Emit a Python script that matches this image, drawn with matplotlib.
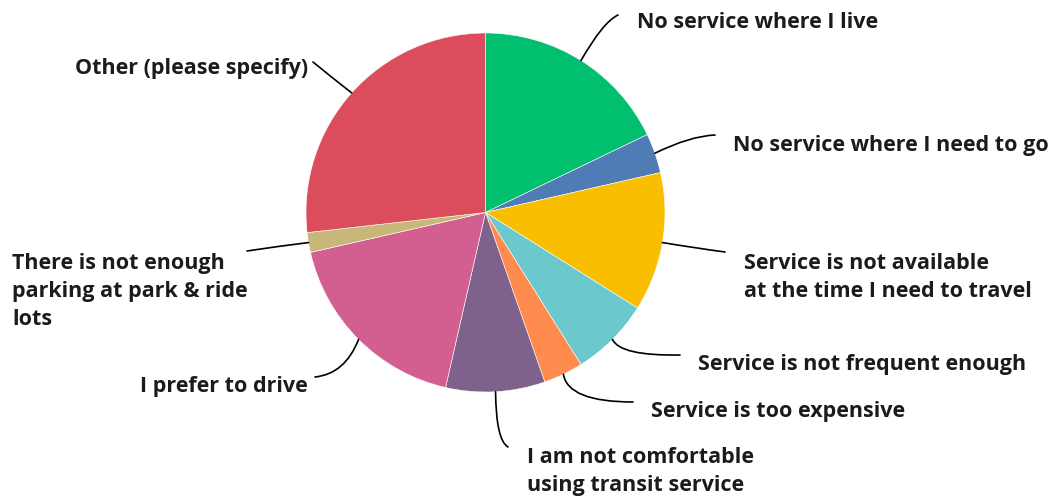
import numpy as np
import matplotlib
matplotlib.use("Agg")
import matplotlib.pyplot as plt
from matplotlib.path import Path
from matplotlib.patches import PathPatch

# Survey responses: reasons for not using transit
categories = [
    "No service where I live",
    "No service where I need to go",
    "Service is not available\nat the time I need to travel",
    "Service is not frequent enough",
    "Service is too expensive",
    "I am not comfortable\nusing transit service",
    "I prefer to drive",
    "There is not enough\nparking at park & ride\nlots",
    "Other (please specify)",
]
counts = [10, 2, 7, 4, 2, 5, 10, 1, 15]
colors = ["#00BF6F", "#507CB6", "#F9BE00", "#6BC8CD", "#FF8B4F",
          "#7F628B", "#D25F90", "#C7B879", "#DB4D5C"]

W, H = 1052, 498
fig = plt.figure(figsize=(W / 100, H / 100), dpi=100)
ax = fig.add_axes([0, 0, 1, 1])

cx, cy, r = 485.5, H - 212.5, 179.5
wedges, _ = ax.pie(counts, colors=colors, startangle=90, counterclock=False,
                   center=(cx, cy), radius=r, frame=True,
                   wedgeprops=dict(edgecolor="white", linewidth=0.4))
ax.set_xlim(0, W)
ax.set_ylim(0, H)
ax.set_aspect("equal")
ax.axis("off")

# label layout: (text anchor x, y in image px, alignment, connector end, control point)
layout = [
    (637, 22.5, "left", (618, 15), (603, 22)),
    (733, 145.5, "left", (715, 135), (690, 136)),
    (744, 277.5, "left", (725, 252), (695, 248)),
    (698, 364.5, "left", (680, 355), (620, 356)),
    (651, 411.5, "left", (633, 402), (568, 402)),
    (527, 471.5, "left", (508, 447), (496, 440)),
    (308, 386.5, "right", (315, 377), (345, 374)),
    (12, 291.5, "left", (247, 251), (280, 246)),
    (308, 68.5, "right", (313, 62), (330, 76)),
]

font = dict(family=["Open Sans", "DejaVu Sans"], weight="bold", size=15.5,
            color="#1b1b1b")

for w, (tx, ty, ha, end, ctrl) in zip(wedges, layout):
    mid = np.deg2rad((w.theta1 + w.theta2) / 2)
    sx, sy = cx + r * np.cos(mid), cy + r * np.sin(mid)
    verts = [(sx, sy), (ctrl[0], H - ctrl[1]), (end[0], H - end[1])]
    path = Path(verts, [Path.MOVETO, Path.CURVE3, Path.CURVE3])
    ax.add_patch(PathPatch(path, fill=False, edgecolor="black", lw=1.2,
                           capstyle="round"))

for (tx, ty, ha, end, ctrl), label in zip(layout, categories):
    ax.text(tx, H - ty, label, ha=ha, va="center", linespacing=1.42,
            **font)

fig.savefig("out.png", dpi=100)
